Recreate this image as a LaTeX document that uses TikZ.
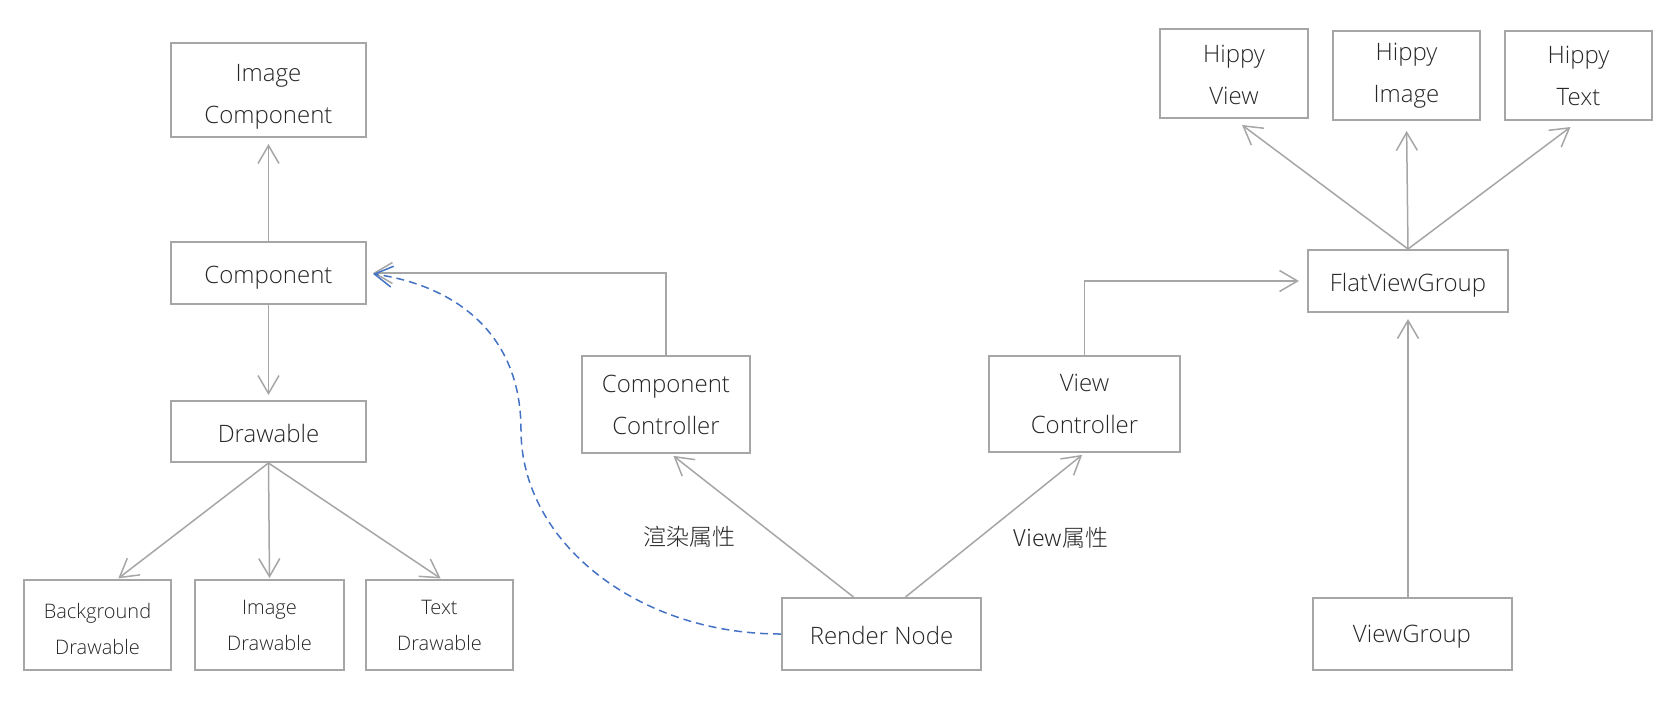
\documentclass[tikz,border=0pt]{standalone}
\usepackage{fontspec}
\IfFontExistsTF{Open Sans Light}{\setmainfont{Open Sans Light}}{\setmainfont{Open Sans}}
\IfFontExistsTF{Noto Sans CJK SC Light}{\newfontfamily\cjk{Noto Sans CJK SC Light}}{\newfontfamily\cjk{Noto Sans CJK SC}}
\usepackage{xcolor}
\usetikzlibrary{arrows.meta,calc}
\definecolor{edgegray}{HTML}{A6A6A6}
\definecolor{dashblue}{HTML}{4472C4}
\newcommand{\toppad}[1]{\rule{0pt}{#1}}

\begin{document}
\begin{tikzpicture}[x=0.5pt,y=-0.5pt,
    box/.style={draw=edgegray,line width=1pt,align=center,inner sep=0pt,
      font=\fontsize{12}{21}\selectfont,text=black!85,
      execute at begin node={\toppad{11pt}}},
    lowbox/.style={box,execute at begin node={\toppad{13pt}}},
    smallbox/.style={box,font=\fontsize{10}{18}\selectfont},
    tag/.style={font=\cjk\fontsize{11.5}{14}\selectfont,text=black!85,inner sep=0pt},
    link/.style={draw=edgegray,line width=0.75pt,
      -{Straight Barb[length=9pt,width=10.5pt]},shorten >=3pt},
    dashlink/.style={link,draw=dashblue,dash pattern=on 4pt off 2.5pt}]
  \useasboundingbox (0,0) rectangle (1677,709);
  \node[box,minimum width=97.5pt,minimum height=47pt] (imgcomp) at (268.5,90) {\toppad{15pt}Image\\Component};
  \node[lowbox,minimum width=97.5pt,minimum height=31pt] (comp) at (268.5,273) {Component};
  \node[box,minimum width=97.5pt,minimum height=30.5pt] (drw) at (268.5,431.5) {Drawable};
  \node[smallbox,minimum width=73.5pt,minimum height=45pt] (bgdrw) at (97.5,625) {\toppad{11.4pt}Background\\Drawable};
  \node[smallbox,minimum width=74.5pt,minimum height=45pt] (imgdrw) at (269.5,625) {Image\\Drawable};
  \node[smallbox,minimum width=73.5pt,minimum height=45pt] (txtdrw) at (439.5,625) {Text\\Drawable};
  \node[box,minimum width=84pt,minimum height=48.5pt] (compctrl) at (666,404.5) {Component\\Controller};
  \node[box,minimum width=95.5pt,minimum height=48pt] (viewctrl) at (1084.5,404) {View\\Controller};
  \node[box,minimum width=99.5pt,minimum height=36pt] (render) at (881.5,634) {Render Node};
  \node[lowbox,minimum width=100pt,minimum height=31pt] (flatvg) at (1408,281) {FlatViewGroup};
  \node[box,minimum width=74pt,minimum height=44.5pt] (hippyview) at (1234,73.5) {\toppad{10.6pt}Hippy\\View};
  \node[box,minimum width=73.5pt,minimum height=44.5pt] (hippyimg) at (1406.5,75.5) {Hippy\\Image};
  \node[box,minimum width=73.5pt,minimum height=44.5pt] (hippytxt) at (1578.5,75.5) {Hippy\\Text};
  \node[box,minimum width=99.5pt,minimum height=36pt] (viewgroup) at (1412,634) {ViewGroup};
  \node[tag] (rendertag) at (689,537) {渲染属性};
  \node[tag] (viewtag) at (1061,538) {View属性};
  \coordinate (dashturn) at (521,430);

  \draw[link] (comp) -- (imgcomp);
  \draw[link,shorten >=2.5pt] (comp) -- (drw);
  \draw[link,shorten >=0.5pt] (drw.south) -- ([xshift=10pt]bgdrw.north);
  \draw[link,shorten >=0.5pt] (drw.south) -- (imgdrw.north);
  \draw[link,shorten >=0.5pt] (drw.south) -- ([xshift=1pt]txtdrw.north);
  \draw[link,shorten >=1.5pt] ([xshift=-14pt]render.north) -- ([xshift=2.5pt]compctrl.south);
  \draw[link,shorten >=1.5pt] ([xshift=12pt]render.north) -- (viewctrl.south);
  \draw[link] (compctrl.north) |- (comp.east);
  \draw[link,shorten >=4pt] (viewctrl.north) |- (flatvg.west);
  \draw[link] (viewgroup.north -| flatvg.south) -- (flatvg.south);
  \foreach \h in {hippyview,hippyimg,hippytxt}
    \draw[link,shorten >=5pt] (flatvg.north) -- (\h.south);
  \draw[dashlink] (render.west) .. controls +(-144,0) and +(0,112) .. (dashturn)
    .. controls +(0,-100) and +(84,12) .. (comp.east);
\end{tikzpicture}
\end{document}
